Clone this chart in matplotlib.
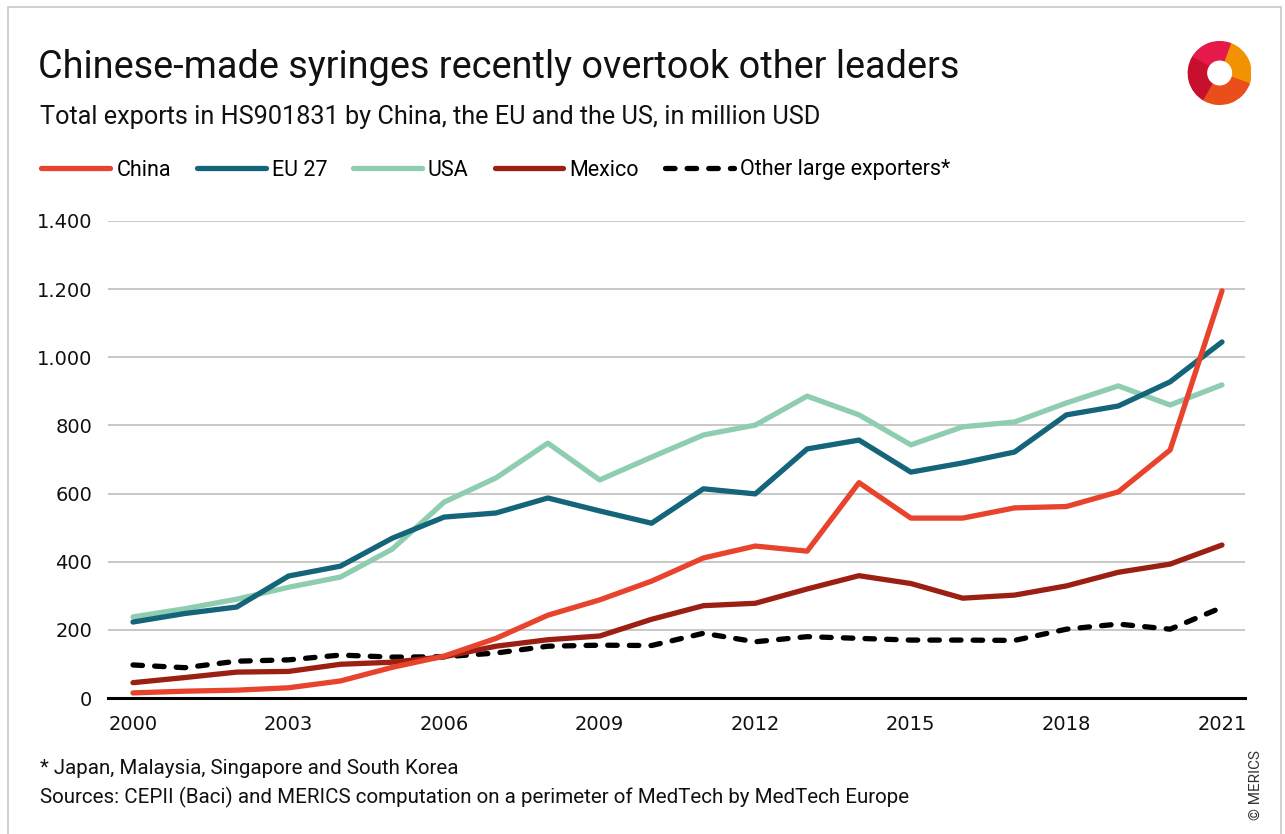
import matplotlib
matplotlib.use("Agg")
import matplotlib.pyplot as plt
from matplotlib.ticker import FuncFormatter
from matplotlib.patches import Rectangle, Wedge
import numpy as np

years = list(range(2000, 2022))
china = [15, 20, 23, 30, 50, 90, 123, 175, 243, 288, 343, 411, 446, 431, 632, 528, 528, 558, 562, 605, 728, 1195]
eu27 = [223, 248, 267, 358, 387, 469, 531, 543, 587, 549, 513, 614, 599, 731, 757, 663, 690, 722, 831, 857, 928, 1045]
usa = [238, 262, 290, 325, 355, 437, 575, 646, 748, 640, 707, 772, 801, 886, 831, 743, 796, 810, 866, 916, 860, 919]
mexico = [45, 60, 76, 78, 99, 105, 121, 152, 171, 182, 231, 271, 278, 320, 359, 336, 293, 302, 329, 369, 393, 449]
other = [97, 89, 108, 112, 126, 120, 121, 132, 152, 155, 154, 190, 165, 180, 175, 170, 170, 169, 202, 217, 202, 266]

series_names = ["China", "EU 27", "USA", "Mexico", "Other large exporters*"]
colors = ["#E8432D", "#14647A", "#8FCDB0", "#9B2013", "#000000"]
xticks = [2000, 2003, 2006, 2009, 2012, 2015, 2018, 2021]
yticks = [0, 200, 400, 600, 800, 1000, 1200, 1400]

COND = ["Roboto", "DejaVu Sans"]

fig = plt.figure(figsize=(12.85, 8.34), dpi=100)
W, H = 1285, 834

def fx(px):
    return px / W

def fy(py):
    return 1 - py / H

# frame border
fig.patches.append(Rectangle((fx(8), fy(900)), fx(1281) - fx(8), fy(7) - fy(900),
                             transform=fig.transFigure, fill=False, edgecolor="#c8c8c8", lw=1.2))

ax = fig.add_axes([fx(108), fy(698), fx(1245) - fx(108), fy(221) - fy(698)])
ax.set_xlim(2000 - 25 / 51.86, 2021 + 23 / 51.86)
ax.set_ylim(0, 1400)

data = [china, eu27, usa, mexico, other]
order = [4, 3, 2, 1, 0]
handles = {}
for i in order:
    ls = (0, (1.8, 2.3)) if i == 4 else "-"
    h, = ax.plot(years, data[i], color=colors[i], lw=3.8, ls=ls,
                 solid_capstyle="round", dash_capstyle="round", label=series_names[i], zorder=3 + (4 - i))
    handles[i] = h

ax.set_yticks(yticks)
ax.set_xticks(xticks)
ax.yaxis.set_major_formatter(FuncFormatter(lambda v, p: f"{int(v):,}".replace(",", ".")))
ax.grid(axis="y", color="#c4c4c4", lw=1.3, zorder=0)
ax.tick_params(axis="both", length=0, labelsize=14, colors="#111111")
ax.tick_params(axis="y", pad=11.5)
ax.tick_params(axis="x", pad=12)
for lab in ax.get_xticklabels() + ax.get_yticklabels():
    lab.set_family("DejaVu Sans")
for s in ["top", "right", "left"]:
    ax.spines[s].set_visible(False)
ax.spines["bottom"].set_color("#000000")
ax.spines["bottom"].set_linewidth(2.2)
ax.spines["bottom"].set_zorder(10)

leg = fig.legend([handles[i] for i in range(5)], series_names, loc="center left",
                 bbox_to_anchor=(fx(22), fy(170)), ncol=5, frameon=False,
                 handlelength=3.2, handletextpad=0.28, columnspacing=1.2,
                 prop={"family": COND, "size": 15.5})

fig.text(fx(38), fy(68), "Chinese-made syringes recently overtook other leaders",
         family=COND, fontsize=27.3, va="center", ha="left", color="#111111")
fig.text(fx(40), fy(117), "Total exports in HS901831 by China, the EU and the US, in million USD",
         family=COND, fontsize=18.2, va="center", ha="left", color="#111111")
fig.text(fx(40), fy(768), "* Japan, Malaysia, Singapore and South Korea",
         family=COND, fontsize=14.8, va="center", ha="left", color="#111111")
fig.text(fx(40), fy(797), "Sources: CEPII (Baci) and MERICS computation on a perimeter of MedTech by MedTech Europe",
         family=COND, fontsize=14.8, va="center", ha="left", color="#111111")
fig.text(fx(1256), fy(785), "© MERICS", rotation=90, family=COND, fontsize=11,
         va="center", ha="center", color="#333333")

# logo
lax = fig.add_axes([fx(1185), fy(106), fx(66), fy(40) - fy(106)])
lax.set_xlim(-1, 1)
lax.set_ylim(-1, 1)
lax.set_aspect("equal")
lax.axis("off")
lax.add_patch(Wedge((0.05, 0), 0.95, -20, 70, width=0.55, color="#F39200"))
lax.add_patch(Wedge((0.05, 0), 0.95, 70, 150, width=0.55, color="#E5194A"))
lax.add_patch(Wedge((0.05, 0), 0.95, 150, 240, width=0.55, color="#C8102E"))
lax.add_patch(Wedge((0.05, 0), 0.95, 240, 340, width=0.55, color="#E94E1B"))

fig.savefig("out.png", dpi=100)
